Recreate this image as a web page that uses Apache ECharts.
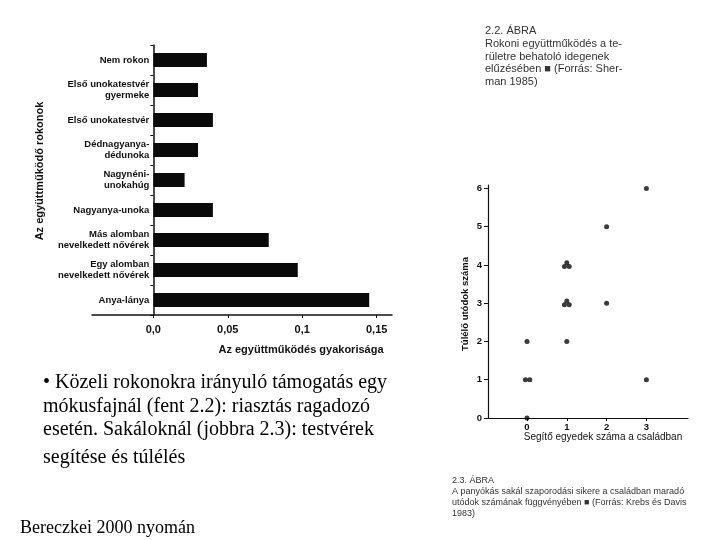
<!DOCTYPE html>
<html>
<head>
<meta charset="utf-8">
<script src="https://cdn.jsdelivr.net/npm/echarts@6/dist/echarts.min.js"></script>
<style>
html,body{margin:0;padding:0;background:#fff;}
#c{width:720px;height:540px;}
</style>
</head>
<body>
<div id="c"></div>
<script>
// Bar chart (2.2. ÁBRA)
const barCategories = [
  "Nem rokon",
  "Első unokatestvér\ngyermeke",
  "Első unokatestvér",
  "Dédnagyanya-\ndédunoka",
  "Nagynéni-\nunokahúg",
  "Nagyanya-unoka",
  "Más alomban\nnevelkedett nővérek",
  "Egy alomban\nnevelkedett nővérek",
  "Anya-lánya"
];
const barValues = [0.036, 0.030, 0.040, 0.030, 0.021, 0.040, 0.0775, 0.097, 0.145];
const barTicks = [0, 0.05, 0.1, 0.15];
const barTickLabels = {"0": "0,0", "0.05": "0,05", "0.1": "0,1", "0.15": "0,15"};

// Scatter chart (2.3. ÁBRA): [helpers, surviving offspring]
const scatterPoints = [
  [3, 6], [2, 5],
  [0.94, 3.96], [1.06, 3.96], [1.0, 4.06],
  [0.94, 2.96], [1.06, 2.96], [1.0, 3.06],
  [2, 3], [0, 2], [1, 2],
  [-0.04, 1], [0.07, 1], [3, 1],
  [0, 0]
];
const scatterXTicks = [0, 1, 2, 3];
const scatterYTicks = [0, 1, 2, 3, 4, 5, 6];

const labelFont = "'Liberation Sans', Arial, sans-serif";
const serifFont = "'Liberation Serif', 'Times New Roman', serif";

const chart = echarts.init(document.getElementById('c'));
chart.setOption({
  animation: false,
  backgroundColor: '#ffffff',
  title: [
    {
      text: "2.2. ÁBRA\nRokoni együttműködés a te-\nrületre behatoló idegenek\nelűzésében ■ (Forrás: Sher-\nman 1985)",
      left: 485, top: 25, padding: 0,
      textStyle: {fontFamily: labelFont, fontSize: 11, fontWeight: 'normal', color: '#333', lineHeight: 12.6}
    },
    {
      text: "2.3. ÁBRA\nA panyókás sakál szaporodási sikere a családban maradó\nutódok számának függvényében ■ (Forrás: Krebs és Davis\n1983)",
      left: 452, top: 475, padding: 0,
      textStyle: {fontFamily: labelFont, fontSize: 9, fontWeight: 'normal', color: '#333', lineHeight: 11}
    },
    {
      text: "• Közeli rokonokra irányuló támogatás egy\nmókusfajnál (fent 2.2): riasztás ragadozó\nesetén. Sakáloknál (jobbra 2.3): testvérek",
      left: 43, top: 371, padding: 0,
      textStyle: {fontFamily: serifFont, fontSize: 20, fontWeight: 'normal', color: '#000', lineHeight: 23.5}
    },
    {
      text: "segítése és túlélés",
      left: 43, top: 446, padding: 0,
      textStyle: {fontFamily: serifFont, fontSize: 20, fontWeight: 'normal', color: '#000', lineHeight: 24}
    },
    {
      text: "Bereczkei 2000 nyomán",
      left: 20, top: 518, padding: 0,
      textStyle: {fontFamily: serifFont, fontSize: 18, fontWeight: 'normal', color: '#000', lineHeight: 20}
    }
  ],
  graphic: [
    {
      type: 'text', x: 40, y: 171, rotation: Math.PI / 2,
      style: {text: "Az együttműködő rokonok", font: "bold 11px " + labelFont, fill: '#111', align: 'center', verticalAlign: 'middle'}
    },
    {
      type: 'text', x: 301, y: 350,
      style: {text: "Az együttműködés gyakorisága", font: "bold 11px " + labelFont, fill: '#111', align: 'center', verticalAlign: 'middle'}
    },
    {
      type: 'text', x: 465, y: 304, rotation: Math.PI / 2,
      style: {text: "Túlélő utódok száma", font: "bold 9.5px " + labelFont, fill: '#111', align: 'center', verticalAlign: 'middle'}
    },
    {
      type: 'text', x: 603, y: 437,
      style: {text: "Segítő egyedek száma a családban", font: "10px " + labelFont, fill: '#111', align: 'center', verticalAlign: 'middle'}
    }
  ],
  grid: [
    {left: 92, right: 328, top: 45, bottom: 225, containLabel: false, outerBoundsMode: 'none'},
    {left: 488, right: 32, top: 185, bottom: 122, containLabel: false, outerBoundsMode: 'none'}
  ],
  xAxis: [
    {
      type: 'value', gridIndex: 0, min: -0.0412, max: 0.1603,
      axisLine: {show: true, onZero: false, lineStyle: {color: '#111', width: 1.5}},
      axisTick: {show: true, length: 3, customValues: barTicks, lineStyle: {color: '#111'}},
      splitLine: {show: false},
      axisLabel: {
        customValues: barTicks, margin: 9,
        fontFamily: labelFont, fontSize: 11, fontWeight: 'bold', color: '#111',
        formatter: v => barTickLabels[String(v)] || ''
      }
    },
    {
      type: 'value', gridIndex: 1, min: -0.98, max: 4.045,
      axisLine: {show: true, onZero: false, lineStyle: {color: '#111', width: 1.2}},
      axisTick: {show: true, length: 3, customValues: scatterXTicks, lineStyle: {color: '#111'}},
      splitLine: {show: false},
      axisLabel: {
        customValues: scatterXTicks, margin: 4,
        fontFamily: labelFont, fontSize: 9.5, fontWeight: 'bold', color: '#111'
      }
    }
  ],
  yAxis: [
    {
      type: 'category', gridIndex: 0, data: barCategories, inverse: true,
      position: 'left', offset: -61.3,
      axisLine: {show: true, onZero: false, lineStyle: {color: '#111', width: 1.5}},
      axisTick: {show: true, length: 3, lineStyle: {color: '#111'}},
      axisLabel: {
        margin: 4, fontFamily: labelFont, fontSize: 9.5, fontWeight: 'bold', color: '#111',
        lineHeight: 10.5, align: 'right'
      }
    },
    {
      type: 'value', gridIndex: 1, min: 0, max: 6.09,
      axisLine: {show: true, onZero: false, lineStyle: {color: '#111', width: 1.2}},
      axisTick: {show: true, length: 4, customValues: scatterYTicks, lineStyle: {color: '#111'}},
      splitLine: {show: false},
      axisLabel: {
        customValues: scatterYTicks, margin: 6,
        fontFamily: labelFont, fontSize: 9.5, fontWeight: 'bold', color: '#111'
      }
    }
  ],
  series: [
    {
      type: 'bar', xAxisIndex: 0, yAxisIndex: 0, data: barValues,
      barWidth: 14, itemStyle: {color: '#0a0a0a'}
    },
    {
      type: 'scatter', xAxisIndex: 1, yAxisIndex: 1, data: scatterPoints,
      symbol: 'circle', symbolSize: 5, itemStyle: {color: '#0a0a0a'}
    }
  ]
});
</script>
</body>
</html>
